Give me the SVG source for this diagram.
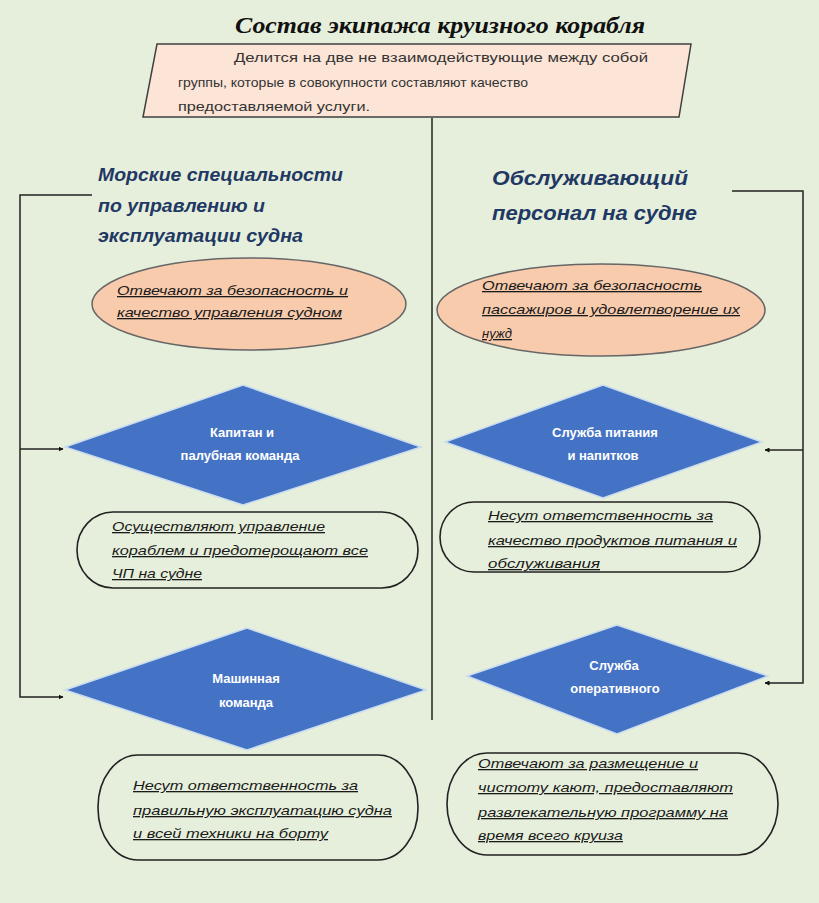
<svg xmlns="http://www.w3.org/2000/svg" width="819" height="903" viewBox="0 0 819 903">
<defs>
<marker id="arr" viewBox="0 0 10 10" refX="9" refY="5" markerWidth="5" markerHeight="5" orient="auto" markerUnits="userSpaceOnUse">
<path d="M0,0 L10,5 L0,10 z" fill="#111"/>
</marker>
<style>
.title{font-family:"Liberation Serif",serif;font-weight:bold;font-style:italic;font-size:24px;fill:#111}
.intro{font-family:"Liberation Sans",Arial,sans-serif;font-size:13.5px;fill:#333}
.head{font-family:"Liberation Sans",Arial,sans-serif;font-weight:bold;font-style:italic;fill:#1f3864}
.desc{font-family:"Liberation Sans",Arial,sans-serif;font-style:italic;font-size:13px;fill:#1a1a1a;text-decoration:underline}
.dia{fill:#4472c4;stroke:#c9dcef;stroke-width:1.5}
.dtxt{font-family:"Liberation Sans",Arial,sans-serif;font-weight:bold;font-size:13px;fill:#fff;text-anchor:middle}
.ell{fill:#f8cbad;stroke:#666;stroke-width:1.5}
.stad{fill:none;stroke:#222;stroke-width:1.6}
.con{fill:none;stroke:#222;stroke-width:1.5}
</style>
</defs>
<rect x="0" y="0" width="819" height="903" fill="#e6efdb"/>

<g id="title">
<text class="title" x="235" y="33" textLength="410" lengthAdjust="spacingAndGlyphs">Состав экипажа круизного корабля</text>
</g>

<g id="intro">
<polygon points="157,44 691,44 679,117 143,117" fill="#fce4d6" stroke="#404040" stroke-width="1.5"/>
<text class="intro" x="234" y="62" textLength="414" lengthAdjust="spacingAndGlyphs">Делится на две не взаимодействующие между собой</text>
<text class="intro" x="178" y="87" textLength="350" lengthAdjust="spacingAndGlyphs">группы, которые в совокупности составляют качество</text>
<text class="intro" x="178" y="111" textLength="192" lengthAdjust="spacingAndGlyphs">предоставляемой услуги.</text>
</g>

<g id="connectors">
<line class="con" x1="432" y1="118" x2="432" y2="720"/>
<polyline class="con" points="92,195 20,195 20,697 63,697" marker-end="url(#arr)"/>
<line class="con" x1="20" y1="449" x2="63" y2="449" marker-end="url(#arr)"/>
<polyline class="con" points="732,191 803,191 803,683 765,683" marker-end="url(#arr)"/>
<line class="con" x1="803" y1="450" x2="765" y2="450" marker-end="url(#arr)"/>
</g>

<g id="head-left">
<text class="head" font-size="18" x="98" y="181" textLength="245" lengthAdjust="spacingAndGlyphs">Морские специальности</text>
<text class="head" font-size="18" x="98" y="212" textLength="167" lengthAdjust="spacingAndGlyphs">по управлению и</text>
<text class="head" font-size="18" x="98" y="242" textLength="205" lengthAdjust="spacingAndGlyphs">эксплуатации судна</text>
</g>

<g id="head-right">
<text class="head" font-size="20" x="492" y="185" textLength="196" lengthAdjust="spacingAndGlyphs">Обслуживающий</text>
<text class="head" font-size="20" x="492" y="220" textLength="205" lengthAdjust="spacingAndGlyphs">персонал на судне</text>
</g>

<g id="ell-left">
<ellipse class="ell" cx="249" cy="304" rx="157" ry="46"/>
<text class="desc" x="117" y="295" textLength="231" lengthAdjust="spacingAndGlyphs">Отвечают за безопасность и</text>
<text class="desc" x="117" y="317" textLength="225" lengthAdjust="spacingAndGlyphs">качество управления судном</text>
</g>

<g id="ell-right">
<ellipse class="ell" cx="601" cy="310" rx="164" ry="46"/>
<text class="desc" x="482" y="290" textLength="220" lengthAdjust="spacingAndGlyphs">Отвечают за безопасность</text>
<text class="desc" x="482" y="314" textLength="258" lengthAdjust="spacingAndGlyphs">пассажиров и удовлетворение их</text>
<text class="desc" x="482" y="338">нужд</text>
</g>

<g id="dia-captain">
<polygon class="dia" points="65,447 243,385 421,447 243,505"/>
<text class="dtxt" x="242" y="437">Капитан и</text>
<text class="dtxt" x="240" y="460">палубная команда</text>
</g>

<g id="dia-food">
<polygon class="dia" points="445,442 603,385 762,442 603,498"/>
<text class="dtxt" x="605" y="437">Служба питания</text>
<text class="dtxt" x="603" y="460">и напитков</text>
</g>

<g id="dia-engine">
<polygon class="dia" points="65,690 247,628 426,690 247,750"/>
<text class="dtxt" x="246" y="683">Машинная</text>
<text class="dtxt" x="246" y="707">команда</text>
</g>

<g id="dia-oper">
<polygon class="dia" points="467,676 617,625 768,676 617,734"/>
<text class="dtxt" x="614" y="670">Служба</text>
<text class="dtxt" x="615" y="693">оперативного</text>
</g>

<g id="stad-captain">
<rect class="stad" x="77" y="512" width="341" height="76" rx="36" ry="38"/>
<text class="desc" x="112" y="531" textLength="213" lengthAdjust="spacingAndGlyphs">Осуществляют управление</text>
<text class="desc" x="112" y="555" textLength="256" lengthAdjust="spacingAndGlyphs">кораблем и предотерощают все</text>
<text class="desc" x="112" y="578" textLength="90" lengthAdjust="spacingAndGlyphs">ЧП на судне</text>
</g>

<g id="stad-food">
<rect class="stad" x="440" y="502" width="320" height="70" rx="34" ry="35"/>
<text class="desc" x="488" y="520" textLength="225" lengthAdjust="spacingAndGlyphs">Несут ответственность за</text>
<text class="desc" x="488" y="545" textLength="249" lengthAdjust="spacingAndGlyphs">качество продуктов питания и</text>
<text class="desc" x="488" y="568" textLength="112" lengthAdjust="spacingAndGlyphs">обслуживания</text>
</g>

<g id="stad-engine">
<rect class="stad" x="98" y="755" width="320" height="105" rx="40" ry="52"/>
<text class="desc" x="133" y="790" textLength="225" lengthAdjust="spacingAndGlyphs">Несут ответственность за</text>
<text class="desc" x="133" y="815" textLength="259" lengthAdjust="spacingAndGlyphs">правильную эксплуатацию судна</text>
<text class="desc" x="133" y="838" textLength="195" lengthAdjust="spacingAndGlyphs">и всей техники на борту</text>
</g>

<g id="stad-oper">
<rect class="stad" x="447" y="753" width="331" height="102" rx="40" ry="51"/>
<text class="desc" x="478" y="768" textLength="220" lengthAdjust="spacingAndGlyphs">Отвечают за размещение и</text>
<text class="desc" x="478" y="792" textLength="255" lengthAdjust="spacingAndGlyphs">чистоту кают, предоставляют</text>
<text class="desc" x="478" y="817" textLength="250" lengthAdjust="spacingAndGlyphs">развлекательную программу на</text>
<text class="desc" x="478" y="840" textLength="145" lengthAdjust="spacingAndGlyphs">время всего круиза</text>
</g>
</svg>
